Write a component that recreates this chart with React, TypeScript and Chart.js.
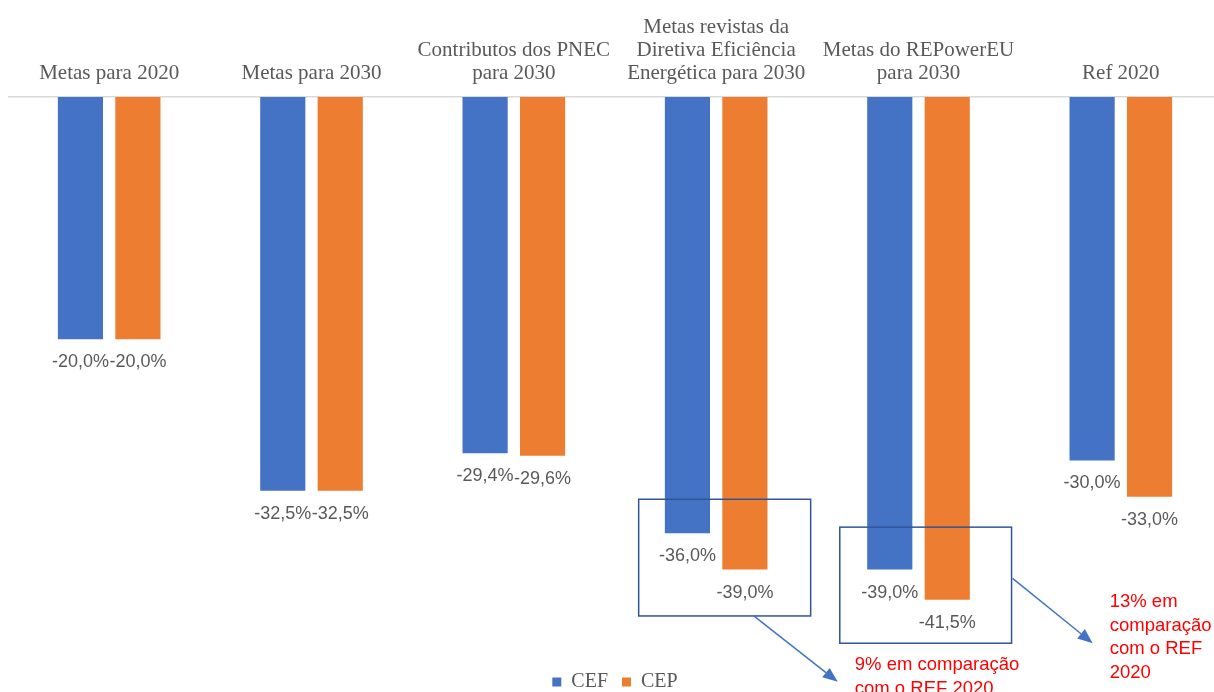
import React, { useEffect, useRef } from "react";
import { Chart, registerables } from "chart.js";

Chart.register(...registerables);

// ---- data ----
const categories: (string | string[])[] = [
  "Metas para 2020",
  "Metas para 2030",
  ["Contributos dos PNEC", "para 2030"],
  ["Metas revistas da", "Diretiva Eficiência", "Energética para 2030"],
  ["Metas do REPowerEU", "para 2030"],
  "Ref 2020",
];
const seriesNames = ["CEF", "CEP"];
const cefValues = [-20.0, -32.5, -29.4, -36.0, -39.0, -30.0];
const cepValues = [-20.0, -32.5, -29.6, -39.0, -41.5, -33.0];
const seriesColors = ["#4472C4", "#ED7D31"];
const noteTexts = [
  ["9% em comparação", "com o REF 2020"],
  ["13% em", "comparação", "com o REF", "2020"],
];

// ---- annotation layout (category index + fraction of category width, value units) ----
const noteBoxes = [
  { cat: 3, x0: -0.383, x1: 0.467, y0: -33.2, y1: -42.83 },
  { cat: 4, x0: -0.389, x1: 0.46, y0: -35.5, y1: -45.08 },
];
const noteArrows = [
  { cat: 3, x0: 0.186, y0: -42.83, x1: 0.601, y1: -48.27 },
  { cat: 4, x0: 0.465, y0: -39.73, x1: 0.861, y1: -45.08 },
];
const noteLabels = [
  { cat: 3, x: 0.685, y: -46.9 },
  { cat: 4, x: 0.945, y: -41.68 },
];

const fmt = (v: number) => v.toFixed(1).replace(".", ",") + "%";

const valueLabelPlugin = {
  id: "valueLabels",
  afterDatasetsDraw(chart: any) {
    const ctx = chart.ctx;
    ctx.save();
    ctx.font = '18px "Liberation Sans", Arial, sans-serif';
    ctx.fillStyle = "#595959";
    ctx.textAlign = "center";
    ctx.textBaseline = "middle";
    chart.data.datasets.forEach((ds: any, i: number) => {
      const meta = chart.getDatasetMeta(i);
      meta.data.forEach((bar: any, j: number) => {
        ctx.fillText(fmt(ds.data[j]), bar.x, bar.y + 23);
      });
    });
    ctx.restore();
  },
};

const notesPlugin = {
  id: "notes",
  afterDraw(chart: any) {
    const ctx = chart.ctx;
    const xs = chart.scales.x;
    const ys = chart.scales.y;
    const cw = xs.width / categories.length;
    const px = (cat: number, f: number) => xs.getPixelForValue(cat) + f * cw;
    ctx.save();
    // boxes
    ctx.strokeStyle = "#2F5597";
    ctx.lineWidth = 1.5;
    noteBoxes.forEach((b) => {
      const l = px(b.cat, b.x0);
      const r = px(b.cat, b.x1);
      const t = ys.getPixelForValue(b.y0);
      const bt = ys.getPixelForValue(b.y1);
      ctx.strokeRect(l, t, r - l, bt - t);
    });
    // arrows
    ctx.strokeStyle = "#4472C4";
    ctx.fillStyle = "#4472C4";
    ctx.lineWidth = 1.5;
    noteArrows.forEach((a) => {
      const x0 = px(a.cat, a.x0);
      const y0 = ys.getPixelForValue(a.y0);
      const x1 = px(a.cat, a.x1);
      const y1 = ys.getPixelForValue(a.y1);
      const ang = Math.atan2(y1 - y0, x1 - x0);
      const hl = 15;
      const hw = 6;
      const bx = x1 - hl * Math.cos(ang);
      const by = y1 - hl * Math.sin(ang);
      ctx.beginPath();
      ctx.moveTo(x0, y0);
      ctx.lineTo(bx, by);
      ctx.stroke();
      ctx.beginPath();
      ctx.moveTo(x1, y1);
      ctx.lineTo(bx + hw * Math.sin(ang), by - hw * Math.cos(ang));
      ctx.lineTo(bx - hw * Math.sin(ang), by + hw * Math.cos(ang));
      ctx.closePath();
      ctx.fill();
    });
    // red texts
    ctx.fillStyle = "#FF0000";
    ctx.font = '18.5px "Liberation Sans", Arial, sans-serif';
    ctx.textAlign = "left";
    ctx.textBaseline = "middle";
    noteLabels.forEach((n, i) => {
      const x = px(n.cat, n.x);
      const y = ys.getPixelForValue(n.y);
      noteTexts[i].forEach((line, k) => ctx.fillText(line, x, y + k * 23.5));
    });
    ctx.restore();
  },
};

export default function App() {
  const ref = useRef<HTMLCanvasElement | null>(null);
  useEffect(() => {
    document.body.style.overflow = "hidden";
    const canvas = ref.current;
    if (!canvas) return;
    const chart = new Chart(canvas, {
      type: "bar",
      data: {
        labels: categories as any,
        datasets: [
          {
            label: seriesNames[0],
            data: cefValues,
            backgroundColor: seriesColors[0],
            categoryPercentage: 0.568,
            barPercentage: 0.786,
          },
          {
            label: seriesNames[1],
            data: cepValues,
            backgroundColor: seriesColors[1],
            categoryPercentage: 0.568,
            barPercentage: 0.786,
          },
        ],
      },
      options: {
        responsive: false,
        animation: false,
        devicePixelRatio: 1,
        layout: { padding: { top: 4, left: 0, right: 0, bottom: 0 } },
        scales: {
          x: {
            position: "top",
            grid: { display: true, drawOnChartArea: false, drawTicks: false },
            border: { display: true, color: "#D9D9D9", width: 1.5 },
            ticks: {
              padding: 12,
              color: "#595959",
              maxRotation: 0,
              autoSkip: false,
              font: { family: '"Liberation Serif", "Times New Roman", serif', size: 21, lineHeight: "23px" },
            },
          },
          y: {
            display: false,
            min: -46.3,
            max: 0,
          },
        },
        plugins: {
          legend: {
            position: "bottom",
            labels: {
              boxWidth: 9,
              boxHeight: 9,
              padding: 14,
              color: "#595959",
              font: { family: '"Liberation Serif", "Times New Roman", serif', size: 20 },
            },
          },
          tooltip: { enabled: false },
        },
      },
      plugins: [valueLabelPlugin, notesPlugin],
    });
    return () => chart.destroy();
  }, []);
  return (
    <div style={{ position: "fixed", left: 0, top: 0, width: 1214, height: 692, overflow: "hidden", background: "#fff" }}>
      <canvas
        ref={ref}
        width={1214}
        height={702}
        style={{ position: "absolute", left: 8, top: 0, width: 1214, height: 702 }}
      />
    </div>
  );
}
